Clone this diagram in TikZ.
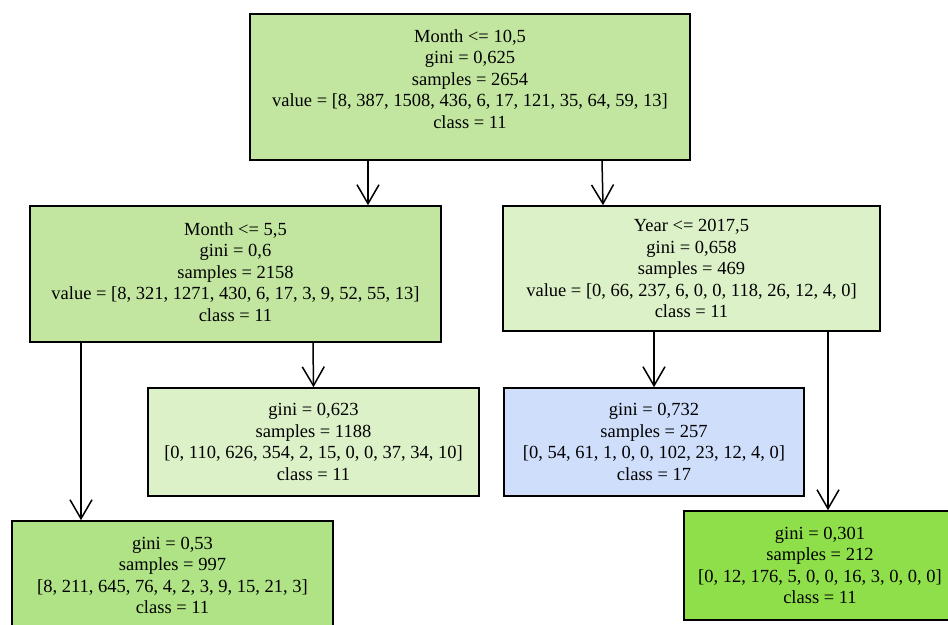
\documentclass[tikz,border=0pt]{standalone}
\usepackage{fontspec}
\setmainfont{Liberation Serif}
\usetikzlibrary{shapes,arrows.meta,positioning}

\definecolor{rootgreen}{HTML}{C2E6A0}
\definecolor{palegreen}{HTML}{DCF1C8}
\definecolor{paleblue}{HTML}{CEDEFB}
\definecolor{midgreen}{HTML}{AFE386}
\definecolor{deepgreen}{HTML}{8EDF4A}

\begin{document}
\begin{tikzpicture}[x=1pt,y=-1pt,
    treenode/.style={rectangle,draw,line width=1.6pt,inner sep=0pt,align=center,
      font=\fontsize{18.5}{21.5}\selectfont},
    edge/.style={line width=1.5pt,-{Straight Barb[length=19pt,width=22pt,line width=1.5pt]}}]

       \useasboundingbox (0,0) rectangle (948,624);
       \clip (0,0) rectangle (948,624);

       \node [treenode,fill=rootgreen,minimum width=440,minimum height=146]  (0) at (470,87)
         {Month <= 10,5\\gini = 0,625\\samples = 2654\\value = [8, 387, 1508, 436, 6, 17, 121, 35, 64, 59, 13]\\class = 11\\[-5pt]};
       \node [treenode,fill=rootgreen,minimum width=411,minimum height=136]  (1) at (235.5,274)
         {Month <= 5,5\\gini = 0,6\\samples = 2158\\value = [8, 321, 1271, 430, 6, 17, 3, 9, 52, 55, 13]\\class = 11\\[-17pt]};
       \node [treenode,fill=palegreen,minimum width=377,minimum height=125]  (2) at (691.5,268.5)
         {Year <= 2017,5\\gini = 0,658\\samples = 469\\value = [0, 66, 237, 6, 0, 0, 118, 26, 12, 4, 0]\\class = 11};
       \node [treenode,fill=palegreen,minimum width=331,minimum height=108]  (3) at (313.5,442)
         {gini = 0,623\\samples = 1188\\{[0, 110, 626, 354, 2, 15, 0, 0, 37, 34, 10]}\\class = 11};
       \node [treenode,fill=paleblue,minimum width=300,minimum height=108]  (4) at (654,442)
         {gini = 0,732\\samples = 257\\{[0, 54, 61, 1, 0, 0, 102, 23, 12, 4, 0]}\\class = 17};
       \node [treenode,fill=midgreen,minimum width=321,minimum height=109]  (5) at (172.5,575.5)
         {gini = 0,53\\samples = 997\\{[8, 211, 645, 76, 4, 2, 3, 9, 15, 21, 3]}\\class = 11};
       \node [treenode,fill=deepgreen,minimum width=272,minimum height=109]  (6) at (820,565.5)
         {gini = 0,301\\samples = 212\\{[0, 12, 176, 5, 0, 0, 16, 3, 0, 0, 0]}\\class = 11};

       \draw [edge] ([xshift=-102]0.south) -- ([xshift=132.5]1.north);
       \draw [edge] ([xshift=132]0.south) -- ([xshift=-88.5]2.north);
       \draw [edge] ([xshift=-154.5]1.south) -- ([xshift=-91.5]5.north);
       \draw [edge] ([xshift=77.5]1.south) -- (3.north);
       \draw [edge] ([xshift=-37.5]2.south) -- (4.north);
       \draw [edge] ([xshift=136.5]2.south) -- ([xshift=8]6.north);
\end{tikzpicture}
\end{document}
